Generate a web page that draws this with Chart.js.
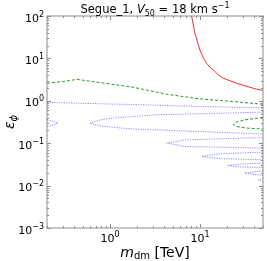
<!DOCTYPE html>
<html lang="en">
<head>
<meta charset="UTF-8">
<title>Segue_1 contours</title>
<script src="https://cdn.jsdelivr.net/npm/chart.js"></script>
<style>
  html, body { margin: 0; padding: 0; background: #fff; }
</style>
</head>
<body>
<canvas id="contourChart" width="267" height="261"></canvas>
<script>
// axis ranges and tick values
const mRange = [0.2, 50];
const epsRange = [1e-3, 1e2];
const mTicks = [1, 10];
const epsTicks = [1e-3, 1e-2, 1e-1, 1, 10, 100];

// contour pieces, [m_dm (TeV), eps_phi]
const redCurve = [[8.07,100],[8.78,39],[9.97,15.8],[10.77,10.8],[11.8,7.7],[12.9,6.19],[14.0,5.35],[15.8,4.19],[18.1,3.41],[25.4,2.6],[42.4,1.88],[50,1.76]];

const greenUpper = [[0.2,2.6],[0.3,2.84],[0.43,3.2],[0.78,2.69],[1.81,2.09],[4.27,1.43],[9.97,1.11],[23.1,0.96],[50,0.83]];
const greenLoop = [[50,0.407],[31.4,0.355],[25.4,0.313],[23.4,0.28],[25.4,0.247],[34.2,0.226],[50,0.215]];

const blueTop = [[0.2,0.92],[1,0.84],[3.16,0.79],[10,0.735],[50,0.68]];
const blueEdge = [[0.2,0.36],[0.235,0.33],[0.265,0.297],[0.235,0.27],[0.2,0.25]];
const blueLoop1 = [[50,0.54],[3.16,0.466],[1.05,0.39],[0.78,0.355],[0.593,0.297],[0.78,0.255],[1.67,0.218],[10,0.188],[50,0.164]];
const blueLoop2 = [[50,0.136],[6.8,0.12],[4.27,0.1005],[6.8,0.0835],[50,0.0766]];
const blueLoop3 = [[50,0.0617],[16.6,0.056],[10.4,0.0486],[16.6,0.0432],[50,0.0406]];
const blueLoop4 = [[50,0.034],[27,0.032],[20.2,0.0298],[27,0.0277],[50,0.0267]];
const blueLoop5 = [[50,0.0224],[31.4,0.0197],[50,0.0173]];
const blueLoop6 = [[50,0.0149],[44.1,0.0137],[50,0.0125]];

const FONT = "'DejaVu Sans', sans-serif";
const FRAME = '#8c8c8c';
const BLUE = 'rgba(60,60,255,0.6)';
const GREEN = '#2a962a';

function piece(arr, color, dash, width) {
    return {
        data: arr.map(([x, y]) => ({ x: x, y: y })),
        borderColor: color,
        borderDash: dash,
        borderWidth: width,
        pointRadius: 0,
        fill: false,
        tension: 0
    };
}

// text with sub/superscripts: runs of {t, size, italic, dy}
function drawRuns(ctx, runs, x, y, align) {
    let total = 0;
    runs.forEach(r => {
        ctx.font = (r.italic ? 'italic ' : '') + r.size + 'px ' + FONT;
        r.w = ctx.measureText(r.t).width;
        total += r.w;
    });
    let cx = align === 'center' ? x - total / 2 : (align === 'right' ? x - total : x);
    runs.forEach(r => {
        ctx.font = (r.italic ? 'italic ' : '') + r.size + 'px ' + FONT;
        ctx.fillText(r.t, cx, y + (r.dy || 0));
        cx += r.w;
    });
}

function powLabel(v) {
    const e = Math.round(Math.log10(v));
    return [
        { t: '10', size: 11 },
        { t: String(e).replace('-', '\u2212'), size: 8, dy: -5 }
    ];
}

const axesDecor = {
    id: 'axesDecor',
    afterDraw(chart) {
        const ctx = chart.ctx;
        const a = chart.chartArea;
        const xs = chart.scales.x, ys = chart.scales.y;
        ctx.save();
        ctx.strokeStyle = FRAME;
        ctx.lineWidth = 1;
        ctx.strokeRect(a.left, a.top, a.right - a.left, a.bottom - a.top);

        // inward ticks on all four sides
        ctx.beginPath();
        for (let d = -1; d <= 2; d++) {
            for (let k = 1; k <= 9; k++) {
                const v = k * Math.pow(10, d);
                if (v < mRange[0] || v > mRange[1]) continue;
                const px = Math.round(xs.getPixelForValue(v)) + 0.5;
                const len = k === 1 ? 4 : 2;
                ctx.moveTo(px, a.bottom); ctx.lineTo(px, a.bottom - len);
                ctx.moveTo(px, a.top); ctx.lineTo(px, a.top + len);
            }
        }
        for (let d = -3; d <= 2; d++) {
            for (let k = 1; k <= 9; k++) {
                const v = k * Math.pow(10, d);
                if (v < epsRange[0] || v > epsRange[1]) continue;
                const py = Math.round(ys.getPixelForValue(v)) + 0.5;
                const len = k === 1 ? 4 : 2;
                ctx.moveTo(a.left, py); ctx.lineTo(a.left + len, py);
                ctx.moveTo(a.right, py); ctx.lineTo(a.right - len, py);
            }
        }
        ctx.stroke();

        ctx.fillStyle = '#000';
        ctx.textBaseline = 'alphabetic';
        mTicks.forEach(v => {
            drawRuns(ctx, powLabel(v), xs.getPixelForValue(v), 242, 'center');
        });
        epsTicks.forEach(v => {
            drawRuns(ctx, powLabel(v), 44, ys.getPixelForValue(v) + 5.5, 'right');
        });

        // title
        drawRuns(ctx, [
            { t: 'Segue_1, ', size: 11.5 },
            { t: 'V', size: 11.5, italic: true },
            { t: '50', size: 8, dy: 2.5 },
            { t: ' = 18 km s', size: 11.5 },
            { t: '\u22121', size: 8, dy: -5 }
        ], (a.left + a.right) / 2, 13, 'center');

        // x label
        drawRuns(ctx, [
            { t: 'm', size: 14, italic: true },
            { t: 'dm', size: 10, dy: 2.5 },
            { t: ' [TeV]', size: 14 }
        ], (a.left + a.right) / 2, 256.5, 'center');

        // y label
        ctx.translate(14, (a.top + a.bottom) / 2);
        ctx.rotate(-Math.PI / 2);
        drawRuns(ctx, [
            { t: '\u03B5', size: 14, italic: true },
            { t: '\u03D5', size: 10, italic: true, dy: 3 }
        ], 0, 0, 'center');
        ctx.restore();
    }
};

new Chart(document.getElementById('contourChart'), {
    type: 'line',
    data: {
        datasets: [
            piece(redCurve, '#ff2a2a', [], 1),
            piece(greenUpper, GREEN, [3, 2], 1),
            piece(greenLoop, GREEN, [3, 2], 1),
            piece(blueTop, BLUE, [1.2, 1.2], 1),
            piece(blueEdge, BLUE, [1.2, 1.2], 1),
            piece(blueLoop1, BLUE, [1.2, 1.2], 1),
            piece(blueLoop2, BLUE, [1.2, 1.2], 1),
            piece(blueLoop3, BLUE, [1.2, 1.2], 1),
            piece(blueLoop4, BLUE, [1.2, 1.2], 1),
            piece(blueLoop5, BLUE, [1.2, 1.2], 1),
            piece(blueLoop6, BLUE, [1.2, 1.2], 1)
        ]
    },
    options: {
        responsive: false,
        animation: false,
        layout: { padding: { top: 16, right: 4, left: 0, bottom: 0 } },
        plugins: { legend: { display: false }, tooltip: { enabled: false } },
        scales: {
            x: {
                type: 'logarithmic',
                min: mRange[0],
                max: mRange[1],
                grid: { display: false },
                border: { display: false },
                ticks: { display: false },
                afterBuildTicks: s => { s.ticks = mTicks.map(v => ({ value: v })); },
                afterFit: s => { s.height = 33; }
            },
            y: {
                type: 'logarithmic',
                min: epsRange[0],
                max: epsRange[1],
                grid: { display: false },
                border: { display: false },
                ticks: { display: false },
                afterBuildTicks: s => { s.ticks = epsTicks.map(v => ({ value: v })); },
                afterFit: s => { s.width = 47; }
            }
        }
    },
    plugins: [axesDecor]
});
</script>
</body>
</html>
